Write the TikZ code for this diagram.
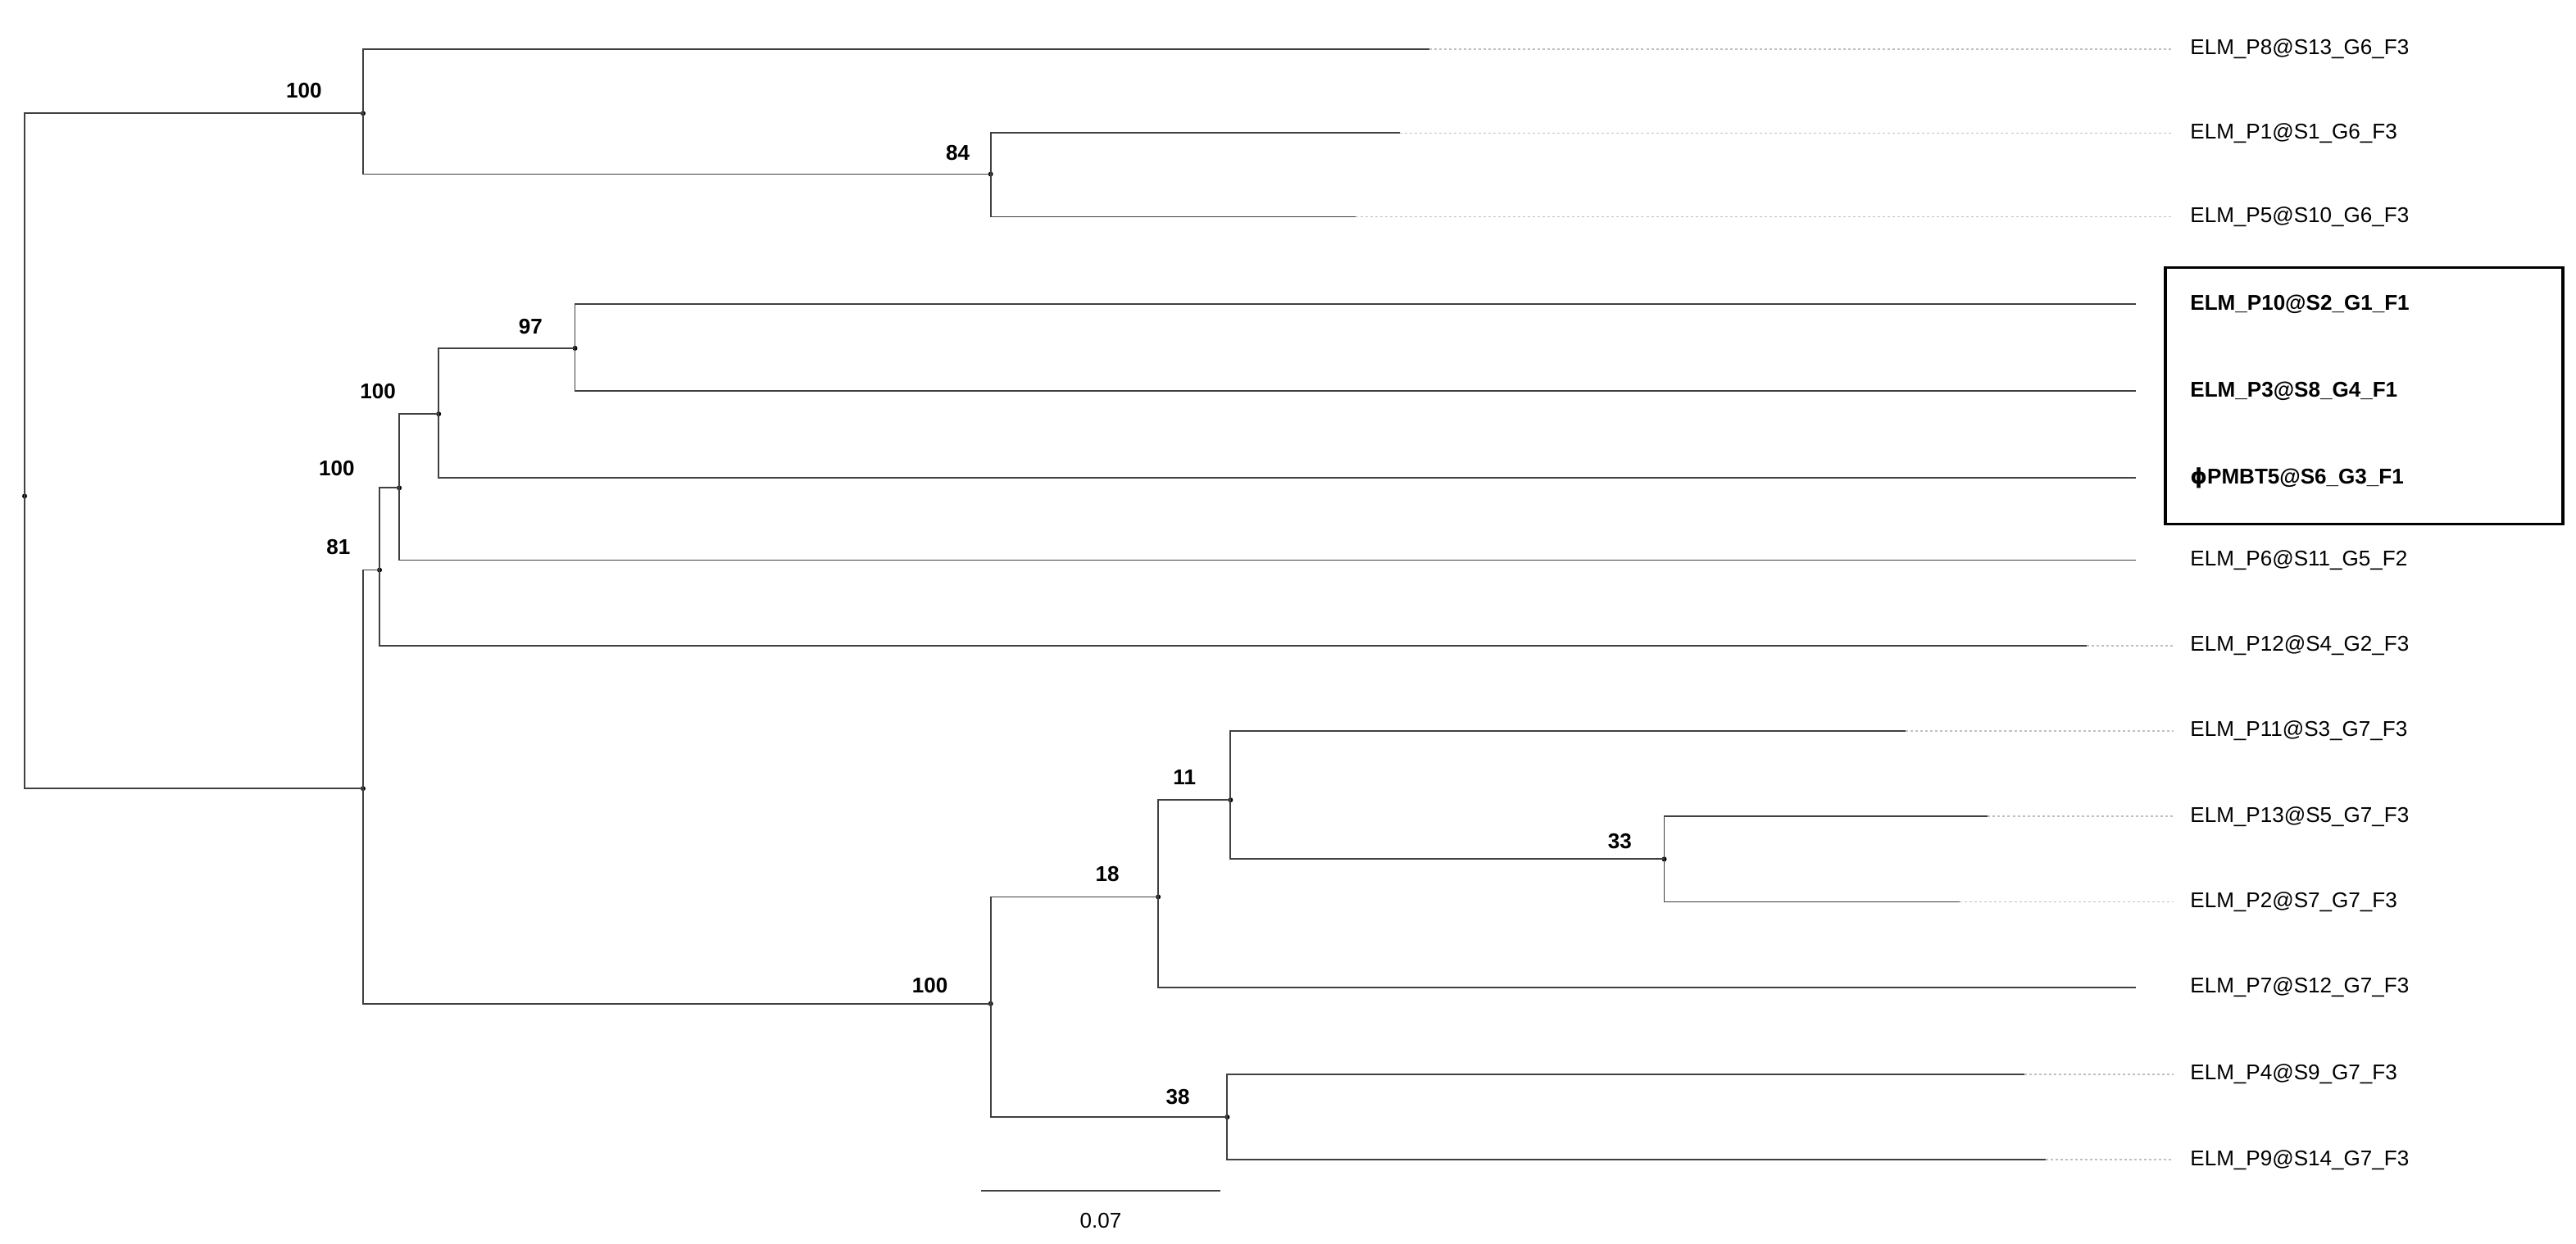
\documentclass[tikz,border=0pt]{standalone}
\usepackage{fontspec}
\setmainfont{Liberation Sans}
\begin{document}
\begin{tikzpicture}[x=1pt,y=-1pt,
 br/.style={draw=black!75,line width=0.9pt},
 ext/.style={draw=black!25,line width=0.8pt,dash pattern=on 1.5pt off 1.5pt},
 lab/.style={anchor=west,inner sep=0pt,font=\fontsize{13}{15}\selectfont},
 blab/.style={lab,font=\fontsize{13}{15}\selectfont\bfseries},
 sup/.style={font=\fontsize{13}{15}\selectfont\bfseries,inner sep=0pt},
 dotn/.style={fill=black,circle,inner sep=0pt,minimum size=3pt}]
\useasboundingbox (0,0) rectangle (1568,757);
% leaf coordinates
\foreach \n/\x/\y in {p8/870/30,p1/852/81,p5/825/132,p10/350/185,p3/350/238,phi/267/291,p6/243/341,p12/231/393,p11/749/445,p13/1210/497,p2/1193/549,p7/705/601,p4/1232/654,p9/1245/706}{\coordinate (\n) at (\x,\y);}
\coordinate (e10) at (1300,185);
\coordinate (e3) at (1300,238);
\coordinate (ephi) at (1300,291);
\coordinate (e6) at (1300,341);
\coordinate (e12) at (1270,393);
\coordinate (e11) at (1160,445);
\coordinate (e7) at (1300,601);
% internal nodes
\node[dotn] (root) at (15,302) {};
\node[dotn] (a) at (221,69) {};
\node[dotn] (n84) at (603,106) {};
\node[dotn] (b) at (221,480) {};
\node[dotn] (n81) at (231,347) {};
\node[dotn] (n100c) at (243,297) {};
\node[dotn] (n100d) at (267,252) {};
\node[dotn] (n97) at (350,212) {};
\node[dotn] (n100e) at (603,611) {};
\node[dotn] (n18) at (705,546) {};
\node[dotn] (n11) at (749,487) {};
\node[dotn] (n33) at (1013,523) {};
\node[dotn] (n38) at (747,680) {};
% branches (rectangular)
\draw[br] (root.center) |- (a.center); \draw[br] (root.center) |- (b.center);
\draw[br] (a.center) |- (p8); \draw[br] (a.center) |- (n84.center);
\draw[br] (n84.center) |- (p1); \draw[br] (n84.center) |- (p5);
\draw[br] (b.center) |- (n81.center); \draw[br] (b.center) |- (n100e.center);
\draw[br] (n81.center) |- (n100c.center); \draw[br] (n81.center) |- (e12);
\draw[br] (n100c.center) |- (n100d.center); \draw[br] (n100c.center) |- (e6);
\draw[br] (n100d.center) |- (n97.center); \draw[br] (n100d.center) |- (ephi);
\draw[br] (n97.center) |- (e10); \draw[br] (n97.center) |- (e3);
\draw[br] (n100e.center) |- (n18.center); \draw[br] (n100e.center) |- (n38.center);
\draw[br] (n18.center) |- (n11.center); \draw[br] (n18.center) |- (e7);
\draw[br] (n11.center) |- (e11); \draw[br] (n11.center) |- (n33.center);
\draw[br] (n33.center) |- (p13); \draw[br] (n33.center) |- (p2);
\draw[br] (n38.center) |- (p4); \draw[br] (n38.center) |- (p9);
% dotted extensions
\foreach \c/\y in {p8/30,p1/81,p5/132,e12/393,e11/445,p13/497,p2/549,p4/654,p9/706}{\draw[ext] (\c) -- (1323,\y);}
% leaf labels
\node[lab] (l8) at (1333,30) {ELM\_P8@S13\_G6\_F3};
\node[lab] (l1) at (1333,81) {ELM\_P1@S1\_G6\_F3};
\node[lab] (l5) at (1333,132) {ELM\_P5@S10\_G6\_F3};
\node[blab] (l10) at (1333,185) {ELM\_P10@S2\_G1\_F1};
\node[blab] (l3) at (1333,238) {ELM\_P3@S8\_G4\_F1};
\node[blab] (lphi) at (1333,291) {{\fontspec{DejaVu Sans}\bfseries ɸ}PMBT5@S6\_G3\_F1};
\node[lab] (l6) at (1333,341) {ELM\_P6@S11\_G5\_F2};
\node[lab] (l12) at (1333,393) {ELM\_P12@S4\_G2\_F3};
\node[lab] (l11) at (1333,445) {ELM\_P11@S3\_G7\_F3};
\node[lab] (l13) at (1333,497) {ELM\_P13@S5\_G7\_F3};
\node[lab] (l2) at (1333,549) {ELM\_P2@S7\_G7\_F3};
\node[lab] (l7) at (1333,601) {ELM\_P7@S12\_G7\_F3};
\node[lab] (l4) at (1333,654) {ELM\_P4@S9\_G7\_F3};
\node[lab] (l9) at (1333,706) {ELM\_P9@S14\_G7\_F3};
\node[draw=black,line width=1.6pt,minimum width=242pt,minimum height=156pt,inner sep=0pt] (box) at (1439,241) {};
% support values
\node[sup] (s1) at (185,55) {100};
\node[sup] (s2) at (583,93) {84};
\node[sup] (s3) at (323,199) {97};
\node[sup] (s4) at (230,238) {100};
\node[sup] (s5) at (205,285) {100};
\node[sup] (s6) at (206,333) {81};
\node[sup] (s7) at (721,473) {11};
\node[sup] (s8) at (986,512) {33};
\node[sup] (s9) at (674,532) {18};
\node[sup] (s10) at (566,600) {100};
\node[sup] (s11) at (717,668) {38};
% scale bar
\coordinate (sb1) at (597,725); \coordinate (sb2) at (743,725);
\draw[br] (sb1) -- (sb2);
\node[font=\fontsize{13}{15}\selectfont,inner sep=0pt] (sbl) at (670,743) {0.07};
\end{tikzpicture}
\end{document}
